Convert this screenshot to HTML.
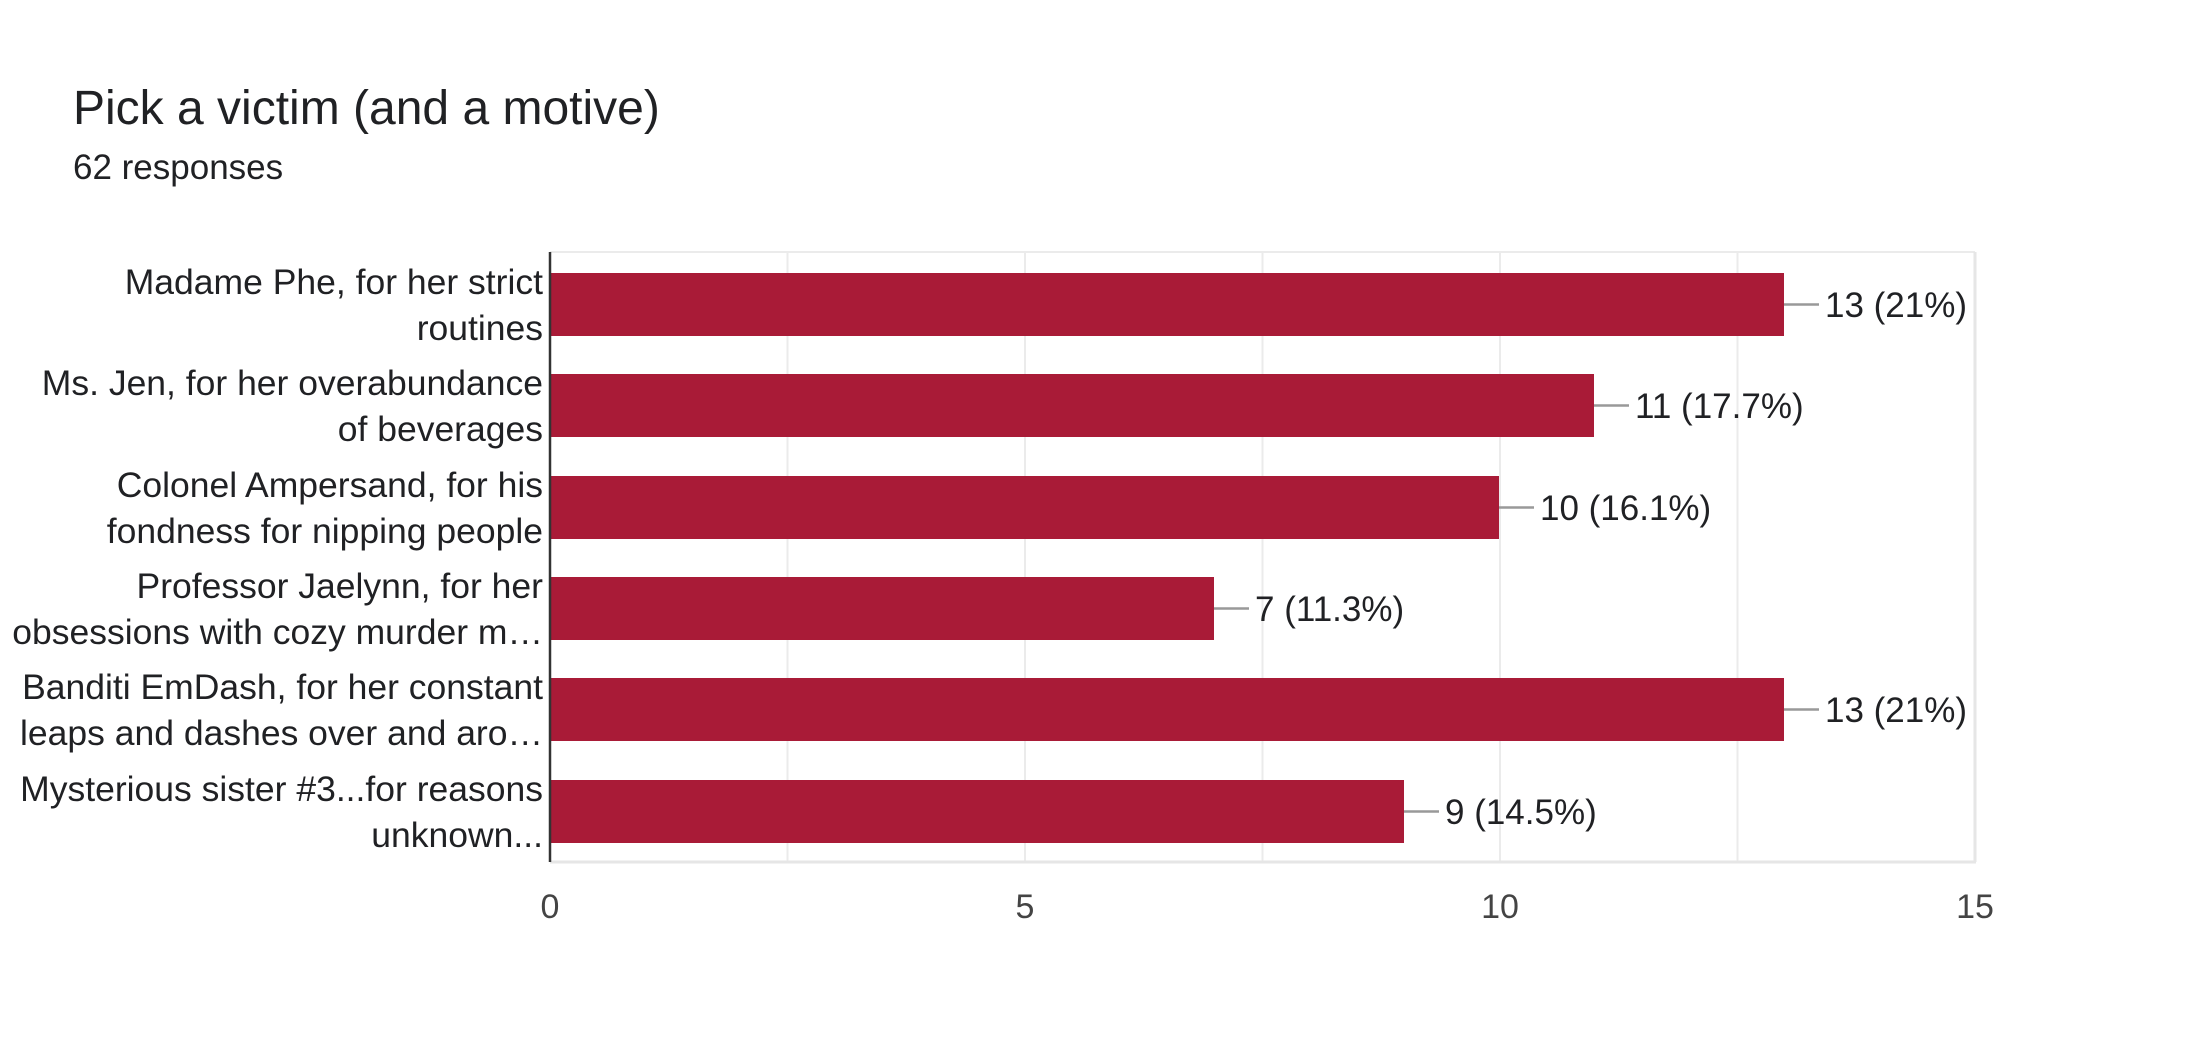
<!DOCTYPE html>
<html><head><meta charset="utf-8"><style>
html,body{margin:0;padding:0;background:#fff;}
svg{display:block;}
text{font-family:"Liberation Sans",Arial,sans-serif;}
</style></head><body>
<svg width="2196" height="1044" viewBox="0 0 2196 1044" xmlns="http://www.w3.org/2000/svg">
<rect width="2196" height="1044" fill="#fff"/>
<text x="73" y="124" font-size="48" fill="#202124">Pick a victim (and a motive)</text>
<text x="73" y="179" font-size="35" fill="#202124">62 responses</text>
<g stroke="#ebebeb" stroke-width="2">
<line x1="787.5" y1="252" x2="787.5" y2="861"/>
<line x1="1025" y1="252" x2="1025" y2="861"/>
<line x1="1262.5" y1="252" x2="1262.5" y2="861"/>
<line x1="1500" y1="252" x2="1500" y2="861"/>
<line x1="1737.5" y1="252" x2="1737.5" y2="861"/>
<line x1="550" y1="252" x2="1975" y2="252"/>
</g>
<g stroke="#e6e6e6" stroke-width="3">
<line x1="1975" y1="252" x2="1975" y2="862"/>
<line x1="550" y1="862" x2="1976" y2="862"/>
</g>
<g fill="#a91b37">
<rect x="551" y="273" width="1233" height="63"/>
<rect x="551" y="374" width="1043" height="63"/>
<rect x="551" y="476" width="948" height="63"/>
<rect x="551" y="577" width="663" height="63"/>
<rect x="551" y="678" width="1233" height="63"/>
<rect x="551" y="780" width="853" height="63"/>
</g>
<line x1="550" y1="252" x2="550" y2="862" stroke="#333" stroke-width="2.5"/>
<g stroke="#999" stroke-width="2.5">
<line x1="1784" y1="304.5" x2="1819" y2="304.5"/>
<line x1="1594" y1="405.5" x2="1629" y2="405.5"/>
<line x1="1499" y1="507.5" x2="1534" y2="507.5"/>
<line x1="1214" y1="608.5" x2="1249" y2="608.5"/>
<line x1="1784" y1="709.5" x2="1819" y2="709.5"/>
<line x1="1404" y1="811.5" x2="1439" y2="811.5"/>
</g>
<g font-size="35" fill="#202124">
<text x="1825" y="317">13 (21%)</text>
<text x="1635" y="418">11 (17.7%)</text>
<text x="1540" y="520">10 (16.1%)</text>
<text x="1255" y="621">7 (11.3%)</text>
<text x="1825" y="722">13 (21%)</text>
<text x="1445" y="824">9 (14.5%)</text>
</g>
<g font-size="35.5" fill="#202124" text-anchor="end">
<text x="543" y="294">Madame Phe, for her strict</text>
<text x="543" y="340">routines</text>
<text x="543" y="395">Ms. Jen, for her overabundance</text>
<text x="543" y="441">of beverages</text>
<text x="543" y="497">Colonel Ampersand, for his</text>
<text x="543" y="543">fondness for nipping people</text>
<text x="543" y="598">Professor Jaelynn, for her</text>
<text x="543" y="644">obsessions with cozy murder m…</text>
<text x="543" y="699">Banditi EmDash, for her constant</text>
<text x="543" y="745">leaps and dashes over and aro…</text>
<text x="543" y="801">Mysterious sister #3...for reasons</text>
<text x="543" y="847">unknown...</text>
</g>
<g font-size="34" fill="#444" text-anchor="middle">
<text x="550" y="918">0</text>
<text x="1025" y="918">5</text>
<text x="1500" y="918">10</text>
<text x="1975" y="918">15</text>
</g>
</svg>
</body></html>
